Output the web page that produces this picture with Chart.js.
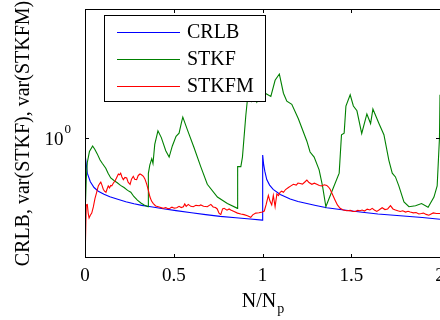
<!DOCTYPE html>
<html>
<head>
<meta charset="utf-8">
<script src="https://cdn.jsdelivr.net/npm/chart.js@4"></script>
<style>
body{margin:0;background:#fff;}
canvas{display:block;}
</style>
</head>
<body>
<canvas id="c" width="440" height="320"></canvas>
<script>
var xTicks=[0,0.5,1,1.5,2];
var yTicks=[1];
var seriesNames=['CRLB','STKF','STKFM'];
var seriesColors=['#0000ff','#008000','#ff0000'];

var crlbX=[0,0.006,0.013,0.03,0.051,0.075,0.107,0.14,0.18,0.23,0.276,0.32,0.372,0.44,0.513,0.6,0.68,0.761,0.85,0.93,0.999,
 1.001,1.006,1.013,1.024,1.04,1.06,1.1,1.156,1.2,1.25,1.3,1.362,1.437,1.55,1.65,1.776,1.9,2.0];
var crlbY=[0.85,0.78,0.701,0.643,0.607,0.585,0.568,0.553,0.541,0.527,0.516,0.508,0.501,0.491,0.482,0.472,0.463,0.455,0.449,0.443,0.438,
 0.84,0.77,0.715,0.657,0.622,0.596,0.566,0.541,0.528,0.517,0.507,0.496,0.487,0.475,0.466,0.458,0.45,0.442];

var stkfX=[0.003,0.007,0.013,0.025,0.043,0.055,0.069,0.085,0.098,0.117,0.13,0.145,0.165,0.182,0.2,0.220,0.24,0.258,0.275,0.295,0.315,0.333,0.355,
 0.357,0.365,0.376,0.383,0.393,0.411,0.430,0.455,0.474,0.492,0.513,0.530,0.543,0.551,0.577,0.614,0.652,0.689,0.746,0.802,0.859,
 0.860,0.878,0.887,0.906,0.915,0.924,0.937,0.949,0.968,0.986,1.015,1.047,1.071,1.095,1.118,1.137,1.165,1.202,1.250,1.268,1.291,1.319,1.338,1.357,
 1.385,1.432,1.445,1.460,1.470,1.494,1.512,1.532,1.559,1.588,1.609,1.622,1.656,1.684,1.712,1.731,1.749,1.768,1.797,1.825,1.862,1.896,1.933,1.966,1.984,1.997,2.0];
var stkfY=[0.526,0.66,0.78,0.87,0.92,0.89,0.85,0.80,0.772,0.736,0.70,0.668,0.65,0.637,0.62,0.607,0.59,0.579,0.555,0.535,0.52,0.510,0.501,
 0.70,0.759,0.810,0.772,0.935,1.070,1.0,0.877,0.823,0.920,1.013,1.046,1.16,1.227,1.080,0.906,0.748,0.627,0.552,0.517,0.493,
 0.748,0.748,0.823,1.247,1.463,1.510,1.439,1.559,1.426,1.510,1.559,1.510,1.774,1.889,1.559,1.439,1.395,1.208,0.965,0.866,0.823,0.724,0.617,0.501,
 0.569,0.701,1.029,1.046,1.372,1.535,1.372,1.308,1.042,1.267,1.151,1.330,1.151,1.029,0.797,0.701,0.675,0.617,0.526,0.501,0.506,0.517,0.498,0.552,0.617,0.997,1.535];

var stkfmX=[0.002,0.007,0.013,0.018,0.023,0.030,0.038,0.047,0.056,0.066,0.075,0.082,0.089,0.096,0.103,0.110,0.118,0.125,0.131,0.138,0.145,0.151,0.160,0.169,0.178,0.188,0.195,0.201,0.208,0.216,0.225,0.235,0.243,0.254,0.262,0.272,0.280,0.291,0.300,0.310,0.318,0.329,0.338,0.348,0.357,0.366,0.375,0.385,0.398,0.413,0.427,0.441,0.455,0.467,0.479,0.490,0.503,0.517,0.530,0.542,0.554,0.562,0.570,0.582,0.596,0.610,0.625,0.644,0.652,0.668,0.689,0.709,0.722,0.735,0.745,0.755,0.765,0.775,0.784,0.800,0.812,0.821,0.840,0.859,0.878,0.896,0.915,0.934,0.945,0.962,0.980,0.999,
 1.010,1.020,1.033,1.042,1.052,1.061,1.071,1.081,1.090,1.099,1.108,1.118,1.130,1.146,1.160,1.174,1.190,1.200,1.212,1.225,1.237,1.250,1.262,1.278,1.292,1.306,1.320,1.334,1.348,1.362,1.372,1.381,1.395,1.409,1.422,1.437,1.455,1.475,1.495,1.510,1.522,1.536,1.550,1.561,1.575,1.590,1.605,1.618,1.630,1.644,1.658,1.674,1.690,1.705,1.721,1.735,1.749,1.762,1.776,1.790,1.806,1.820,1.832,1.850,1.865,1.881,1.895,1.907,1.922,1.937,1.950,1.962,1.980,2.0];
var stkfmY=[0.334,0.51,0.512,0.47,0.448,0.46,0.470,0.50,0.543,0.58,0.617,0.63,0.641,0.62,0.597,0.585,0.579,0.60,0.617,0.605,0.62,0.617,0.635,0.648,0.67,0.695,0.69,0.701,0.675,0.657,0.672,0.668,0.64,0.627,0.66,0.679,0.66,0.657,0.685,0.695,0.69,0.679,0.66,0.627,0.59,0.552,0.53,0.517,0.505,0.501,0.497,0.493,0.497,0.491,0.493,0.499,0.494,0.496,0.503,0.497,0.501,0.515,0.503,0.513,0.503,0.501,0.508,0.506,0.510,0.503,0.501,0.513,0.500,0.497,0.49,0.47,0.463,0.49,0.493,0.484,0.49,0.485,0.478,0.470,0.466,0.463,0.458,0.451,0.462,0.470,0.472,0.475,
 0.48,0.51,0.561,0.53,0.510,0.561,0.501,0.569,0.56,0.579,0.585,0.579,0.595,0.607,0.617,0.627,0.622,0.635,0.632,0.628,0.64,0.654,0.638,0.627,0.634,0.627,0.62,0.617,0.624,0.620,0.61,0.597,0.565,0.535,0.51,0.493,0.485,0.481,0.483,0.478,0.478,0.483,0.481,0.485,0.480,0.489,0.485,0.493,0.485,0.478,0.486,0.496,0.487,0.49,0.506,0.49,0.485,0.481,0.478,0.481,0.475,0.479,0.475,0.471,0.473,0.466,0.468,0.470,0.464,0.460,0.466,0.471,0.468,0.468];

function pts(xs,ys){
  var out=[];
  for(let i=0;i<xs.length;i++){ out.push({x:xs[i],y:ys[i]}); }
  return out;
}

var serif='"Liberation Serif","Times New Roman",serif';

var frame={
  id:'frame',
  afterDraw:function(chart){
    var ctx=chart.ctx, a=chart.chartArea, xs=chart.scales.x, ys=chart.scales.y;
    ctx.save();
    ctx.strokeStyle='#000';
    ctx.lineWidth=1;
    ctx.strokeRect(a.left+0.5,a.top+0.5,a.right-a.left,a.bottom-a.top-1);
    ctx.beginPath();
    for(let i=0;i<xTicks.length;i++){
      var px=Math.round(xs.getPixelForValue(xTicks[i]))+0.5;
      ctx.moveTo(px,a.bottom);ctx.lineTo(px,a.bottom-4);
      ctx.moveTo(px,a.top);ctx.lineTo(px,a.top+4);
    }
    ctx.stroke();

    // y ticks: 10^0 label with raised exponent
    ctx.fillStyle='#000';
    ctx.textBaseline='alphabetic';
    for(let i=0;i<yTicks.length;i++){
      var py=Math.round(ys.getPixelForValue(yTicks[i]))+0.5;
      ctx.beginPath();
      ctx.moveTo(a.left,py);ctx.lineTo(a.left+4,py);
      ctx.moveTo(a.right,py);ctx.lineTo(a.right-4,py);
      ctx.stroke();
      var ex=String(Math.round(Math.log10(yTicks[i])));
      ctx.font='13px '+serif;
      var we=ctx.measureText(ex).width;
      ctx.textAlign='right';
      ctx.fillText(ex,a.left-14,py-6);
      ctx.font='19px '+serif;
      ctx.fillText('10',a.left-15-we,py+6);
      ctx.textAlign='left';
    }

    // x axis title with subscript
    ctx.font='20px '+serif;
    var w1=ctx.measureText('N/N').width;
    ctx.font='14px '+serif;
    var w2=ctx.measureText('p').width;
    var sx=(a.left+a.right)/2-(w1+w2)/2;
    ctx.font='20px '+serif;
    ctx.fillText('N/N',sx,307);
    ctx.font='14px '+serif;
    ctx.fillText('p',sx+w1+1,313);

    // legend
    ctx.fillStyle='#fff';
    ctx.fillRect(104,15,162,87);
    ctx.strokeRect(104.5,15.5,161,86);
    var rows=[32,59,86];
    ctx.font='20px '+serif;
    ctx.textBaseline='middle';
    for(let i=0;i<seriesNames.length;i++){
      ctx.strokeStyle=seriesColors[i];
      ctx.beginPath();
      ctx.moveTo(117,rows[i]+0.5);ctx.lineTo(180,rows[i]+0.5);
      ctx.stroke();
      ctx.fillStyle='#000';
      ctx.fillText(seriesNames[i],187,rows[i]+1);
    }
    ctx.restore();
  }
};

var chart=new Chart(document.getElementById('c'),{
  type:'scatter',
  data:{
    datasets:[
      {label:seriesNames[0],data:pts(crlbX,crlbY),borderColor:seriesColors[0],order:2},
      {label:seriesNames[1],data:pts(stkfX,stkfY),borderColor:seriesColors[1],order:1},
      {label:seriesNames[2],data:pts(stkfmX,stkfmY),borderColor:seriesColors[2],order:0}
    ]
  },
  options:{
    responsive:false,
    animation:false,
    devicePixelRatio:1,
    showLine:true,
    layout:{padding:{top:9,right:0,left:0,bottom:0}},
    elements:{point:{radius:0},line:{borderWidth:1.1,tension:0}},
    plugins:{legend:{display:false},tooltip:{enabled:false}},
    scales:{
      x:{
        type:'linear',min:0,max:2,
        grid:{display:false,drawTicks:false},
        border:{display:false},
        afterBuildTicks:function(s){ s.ticks=xTicks.map(function(v){return {value:v};}); },
        ticks:{color:'#000',padding:7,font:{family:serif,size:19},maxRotation:0,autoSkip:false,
          callback:function(v){ return String(v); }},
        afterFit:function(s){ s.height=62; s.paddingLeft=0; s.paddingRight=0; }
      },
      y:{
        type:'logarithmic',min:0.332,max:3.62,
        grid:{display:false,drawTicks:false},
        border:{display:false},
        afterBuildTicks:function(s){ s.ticks=yTicks.map(function(v){return {value:v};}); },
        ticks:{display:false},
        title:{display:true,text:'CRLB, var(STKF), var(STKFM)',color:'#000',font:{family:serif,size:20},padding:{top:12,bottom:0}},
        afterFit:function(s){ s.width=85; s.paddingTop=0; s.paddingBottom=0; }
      }
    }
  },
  plugins:[frame]
});
</script>
</body>
</html>
